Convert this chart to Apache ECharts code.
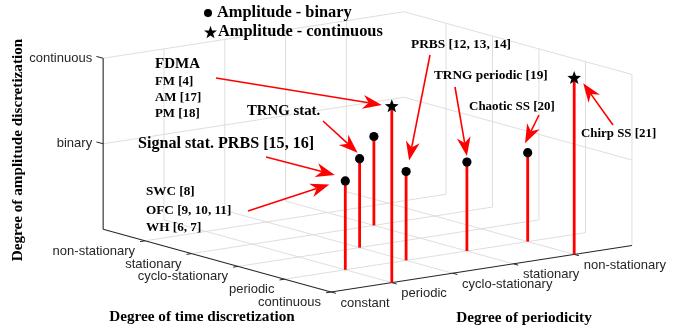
<!DOCTYPE html>
<html><head><meta charset="utf-8">
<script src="https://cdn.jsdelivr.net/npm/echarts@6/dist/echarts.min.js"></script>
<style>html,body{margin:0;padding:0;background:#fff}#c{width:687px;height:330px}</style>
</head><body><div id="c"></div>
<script>
// ---------------- DATA ----------------
const timeTicks = ['continuous', 'periodic', 'cyclo-stationary', 'stationary', 'non-stationary'];
const periodicityTicks = ['constant', 'periodic', 'cyclo-stationary', 'stationary', 'non-stationary'];
const amplitudeTicks = ['binary', 'continuous'];
const amplitudeTickValues = [1, 2];

// Amplitude - binary points (time index, periodicity index, amplitude)
const binaryTime = [1, 2, 3, 1, 1, 1];
const binaryPeriodicity = [1, 2, 3, 2, 3, 4];
const binaryAmplitude = [1.04, 1.04, 1.04, 1.04, 1.04, 1.04];

// Amplitude - continuous points
const contTime = [0, 0];
const contPeriodicity = [1, 4];
const contAmplitude = [2.06, 2.06];

// Annotations
const annotationTexts = [
  ['FDMA', 'FM [4]', 'AM [17]', 'PM [18]'],
  ['TRNG stat.'],
  ['Signal stat. PRBS [15, 16]'],
  ['SWC [8]', 'OFC [9, 10, 11]', 'WH [6, 7]'],
  ['PRBS [12, 13, 14]'],
  ['TRNG periodic [19]'],
  ['Chaotic SS [20]'],
  ['Chirp SS [21]']
];
const annotationTargetSeries = ['cont', 'binary', 'binary', 'binary', 'binary', 'binary', 'binary', 'cont'];
const annotationTargetIndex = [0, 1, 0, 0, 3, 4, 5, 1];

const seriesNames = ['Amplitude - binary', 'Amplitude - continuous'];
const axisTitles = ['Degree of time discretization', 'Degree of periodicity', 'Degree of amplitude discretization'];

// ---------------- LAYOUT / STYLE ----------------
const L = {
  origin: [331, 292], tVec: [-46.5, -12.8], pVec: [60.8, -9.4], zUnit: -85.5,
  tMax: 4.9, pMax: 4.95, zMax: 2,
  gridColor: '#dadada', axisColor: '#262626', stemColor: '#ff0000',
  serif: 'Liberation Serif', sans: 'Liberation Sans',
  timeLabelOff: [-10, 10.5], perLabelOff: [9.5, 11], ampLabelOff: [-11, 0],
  ann: [
    { x: 155, y: [64, 82, 98, 114], size: [15, 12.9, 12.9, 12.9], tail: [216, 78], tipOff: [-10, -1.5] },
    { x: 247, y: [111], size: [14.8], tail: [323, 121], tipOff: [-2, -6] },
    { x: 138, y: [144], size: [16.1], tail: [266, 157], tipOff: [-10.5, -6] },
    { x: 146, y: [192, 211, 228], size: [13.2, 13.2, 13.2], tail: [248, 211], tipOff: [-16, 3.5] },
    { x: 411, y: [45], size: [13.4], tail: [430, 55], tipOff: [3, -11] },
    { x: 434, y: [76], size: [13.3], tail: [455, 87], tipOff: [0, -6] },
    { x: 469, y: [107], size: [13], tail: [539, 115], tipOff: [-2.7, -9.4] },
    { x: 581, y: [134], size: [12.9], tail: [613, 125], tipOff: [9, 5] }
  ]
};

function proj(t, p, z) {
  return [L.origin[0] + t * L.tVec[0] + p * L.pVec[0],
          L.origin[1] + t * L.tVec[1] + p * L.pVec[1] + z * L.zUnit];
}
function unit(v, s) { const n = Math.hypot(v[0], v[1]); return [v[0] / n * s, v[1] / n * s]; }

function starPts(cx, cy, R) {
  const r = R * 0.42, pts = [];
  for (let k = 0; k < 10; k++) {
    const ang = -Math.PI / 2 + k * Math.PI / 5, rr = k % 2 ? r : R;
    pts.push([cx + rr * Math.cos(ang), cy + rr * Math.sin(ang)]);
  }
  return pts;
}

// grid/axis line items built from tick arrays
const lineItems = [];
for (let i = 1; i < timeTicks.length; i++) lineItems.push([i, 0, 0, i, L.pMax, 0, 0]);
for (let j = 1; j < periodicityTicks.length; j++) lineItems.push([0, j, 0, L.tMax, j, 0, 0]);
for (let j = 1; j < periodicityTicks.length; j++) lineItems.push([L.tMax, j, 0, L.tMax, j, L.zMax, 0]);
for (let i = 0; i < timeTicks.length; i++) lineItems.push([i, L.pMax, 0, i, L.pMax, L.zMax, 0]);
amplitudeTickValues.forEach(z => {
  lineItems.push([L.tMax, 0, z, L.tMax, L.pMax, z, 0]);
  lineItems.push([0, L.pMax, z, L.tMax, L.pMax, z, 0]);
});
lineItems.push([0, 0, 0, L.tMax, 0, 0, 1]);
lineItems.push([0, 0, 0, 0, L.pMax, 0, 1]);
lineItems.push([L.tMax, 0, 0, L.tMax, 0, L.zMax, 1]);

const tickItems = [];
timeTicks.forEach((_, i) => tickItems.push([0, i]));
periodicityTicks.forEach((_, i) => tickItems.push([1, i]));
amplitudeTicks.forEach((_, i) => tickItems.push([2, i]));

const binaryData = binaryTime.map((t, i) => [t, binaryPeriodicity[i], binaryAmplitude[i]]);
const contData = contTime.map((t, i) => [t, contPeriodicity[i], contAmplitude[i]]);

function lineRender(params, api) {
  const a = api.coord(proj(api.value(0), api.value(1), api.value(2)));
  const b = api.coord(proj(api.value(3), api.value(4), api.value(5)));
  const axis = api.value(6) === 1;
  return { type: 'line', shape: { x1: a[0], y1: a[1], x2: b[0], y2: b[1] },
    style: { stroke: axis ? L.axisColor : L.gridColor, lineWidth: axis ? 1.1 : 0.9 } };
}

function tickRender(params, api) {
  const kind = api.value(0), i = api.value(1);
  let P, label, d, off, align;
  if (kind === 0) { P = proj(i, 0, 0); label = timeTicks[i]; d = unit([-L.pVec[0], -L.pVec[1]], 5); off = L.timeLabelOff; align = 'right'; }
  else if (kind === 1) { P = proj(0, i, 0); label = periodicityTicks[i]; d = unit([-L.tVec[0], -L.tVec[1]], 5); off = L.perLabelOff; align = 'left'; }
  else { P = proj(L.tMax, 0, amplitudeTickValues[i]); label = amplitudeTicks[i]; d = unit(L.tVec, 7); off = L.ampLabelOff; align = 'right'; }
  const a = api.coord(P);
  return { type: 'group', children: [
    { type: 'line', shape: { x1: a[0], y1: a[1], x2: a[0] + d[0], y2: a[1] + d[1] }, style: { stroke: L.axisColor, lineWidth: 1 } },
    { type: 'text', style: { text: label, x: a[0] + off[0], y: a[1] + off[1], align: align, verticalAlign: 'middle',
      fontFamily: L.sans, fontSize: 13, fill: L.axisColor } }
  ] };
}

function stemRender(marker) {
  return function (params, api) {
    const t = api.value(0), p = api.value(1), z = api.value(2);
    const b = api.coord(proj(t, p, 0)), top = api.coord(proj(t, p, z));
    const mk = marker === 'circle'
      ? { type: 'circle', shape: { cx: top[0], cy: top[1], r: 4.6 }, style: { fill: '#000' } }
      : { type: 'polygon', shape: { points: starPts(top[0], top[1], 7.2) }, style: { fill: '#000' } };
    return { type: 'group', children: [
      { type: 'line', shape: { x1: b[0], y1: b[1], x2: top[0], y2: top[1] }, style: { stroke: L.stemColor, lineWidth: 2.8 } },
      mk
    ] };
  };
}

function annRender(params, api) {
  const k = api.value(0);
  const lay = L.ann[k];
  const src = annotationTargetSeries[k] === 'cont' ? contData : binaryData;
  const pt = src[annotationTargetIndex[k]];
  const target = api.coord(proj(pt[0], pt[1], pt[2]));
  const tip = [target[0] + lay.tipOff[0], target[1] + lay.tipOff[1]];
  const tail = api.coord(lay.tail);
  const dx = tip[0] - tail[0], dy = tip[1] - tail[1], n = Math.hypot(dx, dy);
  const ux = dx / n, uy = dy / n, nx = -uy, ny = ux;
  const HL = 19, HW = 7, notch = 0.7 * HL;
  const back = [tip[0] - HL * ux, tip[1] - HL * uy];
  const nb = [tip[0] - notch * ux, tip[1] - notch * uy];
  const children = [
    { type: 'line', shape: { x1: tail[0], y1: tail[1], x2: nb[0], y2: nb[1] }, style: { stroke: L.stemColor, lineWidth: 1.6 } },
    { type: 'polygon', shape: { points: [tip, [back[0] + HW * nx, back[1] + HW * ny], nb, [back[0] - HW * nx, back[1] - HW * ny]] },
      style: { fill: L.stemColor } }
  ];
  annotationTexts[k].forEach((s, li) => {
    const p = api.coord([lay.x, lay.y[li]]);
    children.push({ type: 'text', style: { text: s, x: p[0], y: p[1], align: 'left', verticalAlign: 'middle',
      fontFamily: L.serif, fontWeight: 'bold', fontSize: lay.size[li], fill: '#000' } });
  });
  return { type: 'group', children };
}

const starPath = 'path://M0,-10 L2.35,-3.24 L9.51,-3.09 L3.8,1.24 L5.88,8.09 L0,4 L-5.88,8.09 L-3.8,1.24 L-9.51,-3.09 L-2.35,-3.24 Z';
const legendText = { fontFamily: L.serif, fontWeight: 'bold', fontSize: 16.4, color: '#000' };

const chart = echarts.init(document.getElementById('c'), null, { renderer: 'canvas' });
chart.setOption({
  animation: false,
  backgroundColor: '#fff',
  grid: { left: 0, right: 0, top: 0, bottom: 0 },
  xAxis: { type: 'value', min: 0, max: 687, show: false },
  yAxis: { type: 'value', min: 0, max: 330, inverse: true, show: false },
  legend: [
    { data: [{ name: seriesNames[0], icon: 'circle' }], left: 204, top: 5, padding: 0, itemWidth: 8, itemHeight: 8, selectedMode: false,
      textStyle: legendText },
    { data: [{ name: seriesNames[1], icon: starPath }], left: 204, top: 24, padding: 0, itemWidth: 13, itemHeight: 13, selectedMode: false,
      textStyle: Object.assign({ padding: [0, 0, 0, -4] }, legendText) }
  ],
  graphic: [
    { type: 'text', x: 202, y: 317, style: { text: axisTitles[0], align: 'center', verticalAlign: 'middle', fontFamily: L.serif, fontWeight: 'bold', fontSize: 15.2, fill: '#000' } },
    { type: 'text', x: 524, y: 318, style: { text: axisTitles[1], align: 'center', verticalAlign: 'middle', fontFamily: L.serif, fontWeight: 'bold', fontSize: 15.2, fill: '#000' } },
    { type: 'text', x: 18, y: 150, rotation: Math.PI / 2, style: { text: axisTitles[2], align: 'center', verticalAlign: 'middle', fontFamily: L.serif, fontWeight: 'bold', fontSize: 15.2, fill: '#000' } }
  ],
  series: [
    { type: 'custom', name: 'box', silent: true, z: 1, renderItem: lineRender, data: lineItems, encode: { x: 0, y: 1 } },
    { type: 'custom', name: 'ticks', silent: true, z: 2, renderItem: tickRender, data: tickItems, encode: { x: 0, y: 1 } },
    { type: 'custom', name: seriesNames[0], z: 3, itemStyle: { color: '#000' }, renderItem: stemRender('circle'), data: binaryData, encode: { x: 0, y: 1 } },
    { type: 'custom', name: seriesNames[1], z: 3, itemStyle: { color: '#000' }, renderItem: stemRender('star'), data: contData, encode: { x: 0, y: 1 } },
    { type: 'custom', name: 'annotations', silent: true, z: 4, renderItem: annRender, data: annotationTexts.map((_, i) => [i]), encode: { x: 0, y: 0 } }
  ]
});
</script></body></html>
